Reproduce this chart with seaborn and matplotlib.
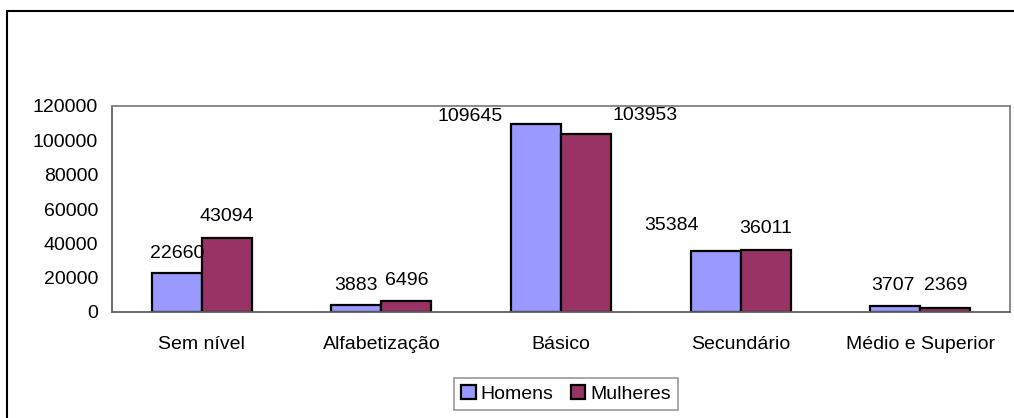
import numpy as np
import pandas as pd
import matplotlib
matplotlib.use("Agg")
import matplotlib.pyplot as plt
from matplotlib.lines import Line2D
import seaborn as sns

# data
categories = ["Sem nível", "Alfabetização", "Básico", "Secundário", "Médio e Superior"]
homens = [22660, 3883, 109645, 35384, 3707]
mulheres = [43094, 6496, 103953, 36011, 2369]
series = ["Homens", "Mulheres"]
yticks = [0, 20000, 40000, 60000, 80000, 100000, 120000]

# label offsets (pixels) from the top centre of each bar, Excel-style placement
offsets_h = [(0, 20), (0, 20), (-66, 7), (-44, 26), (-2, 20)]
offsets_m = [(0, 22), (0, 20), (59, 18), (0, 22), (0, 22)]

df = pd.DataFrame({
    "cat": categories * 2,
    "sexo": [series[0]] * len(categories) + [series[1]] * len(categories),
    "valor": homens + mulheres,
})

sns.set_style("white")
plt.rcParams["font.family"] = ["Liberation Sans", "DejaVu Sans"]
plt.rcParams["text.color"] = "black"
plt.rcParams["xtick.labelcolor"] = "black"
plt.rcParams["ytick.labelcolor"] = "black"
FS = 14

fig = plt.figure(figsize=(10.14, 4.18), dpi=100)
ax = fig.add_axes([112 / 1014, 1 - 312 / 418, 898 / 1014, 206 / 418])

colors = {"Homens": "#9999FF", "Mulheres": "#993366"}
sns.barplot(data=df, x="cat", y="valor", hue="sexo", palette=colors, width=0.557,
            saturation=1, edgecolor="black", linewidth=1.6, ax=ax, legend=False)

ax.set_ylim(0, 120000)
ax.set_xlim(-0.5, len(categories) - 0.5)
ax.set_yticks(yticks)
ax.set_yticklabels([str(v) for v in yticks], fontsize=FS, color="black")
ax.set_xticks(range(len(categories)))
ax.set_xticklabels(categories, fontsize=FS, color="black")
ax.set_xticks(np.arange(-0.5, len(categories), 1.0), minor=True)
ax.tick_params(axis="x", which="major", length=0, pad=17)
ax.tick_params(axis="x", which="minor", length=6, width=1, color="#606060", direction="out")
ax.tick_params(axis="y", length=6, width=1, color="#606060", direction="out", pad=4)
ax.set_xlabel(""); ax.set_ylabel("")
for s in ax.spines.values():
    s.set_visible(True); s.set_color("#808080"); s.set_linewidth(1.3)
ax.spines["left"].set_color("#606060")
ax.spines["bottom"].set_color("#606060")

# value labels
for cont, vals, offs in zip(ax.containers, [homens, mulheres], [offsets_h, offsets_m]):
    for bar, v, (dx, dy) in zip(cont, vals, offs):
        ax.annotate(str(v), (bar.get_x() + bar.get_width() / 2, bar.get_height()),
                    xytext=(dx, dy), textcoords="offset pixels",
                    ha="center", va="center", fontsize=FS, color="black")

# legend
handles = [plt.Rectangle((0, 0), 1, 1, facecolor=colors[s], edgecolor="black", linewidth=1.6) for s in series]
leg = fig.legend(handles, series, loc="center", bbox_to_anchor=(566 / 1014, 1 - 394 / 418),
                 ncol=2, fontsize=FS, frameon=True, fancybox=False, handlelength=0.75,
                 handleheight=0.75, handletextpad=0.25, columnspacing=0.9, borderpad=0.35,
                 borderaxespad=0)
leg.get_frame().set_edgecolor("#808080")
leg.get_frame().set_linewidth(1.2)

# outer chart frame (cropped on right and bottom)
fig.add_artist(Line2D([7 / 1014, 1.0], [1 - 11 / 418, 1 - 11 / 418], color="black", lw=1.5, transform=fig.transFigure))
fig.add_artist(Line2D([7 / 1014, 7 / 1014], [0.0, 1 - 11 / 418], color="black", lw=1.5, transform=fig.transFigure))

fig.savefig("out.png", dpi=100)
